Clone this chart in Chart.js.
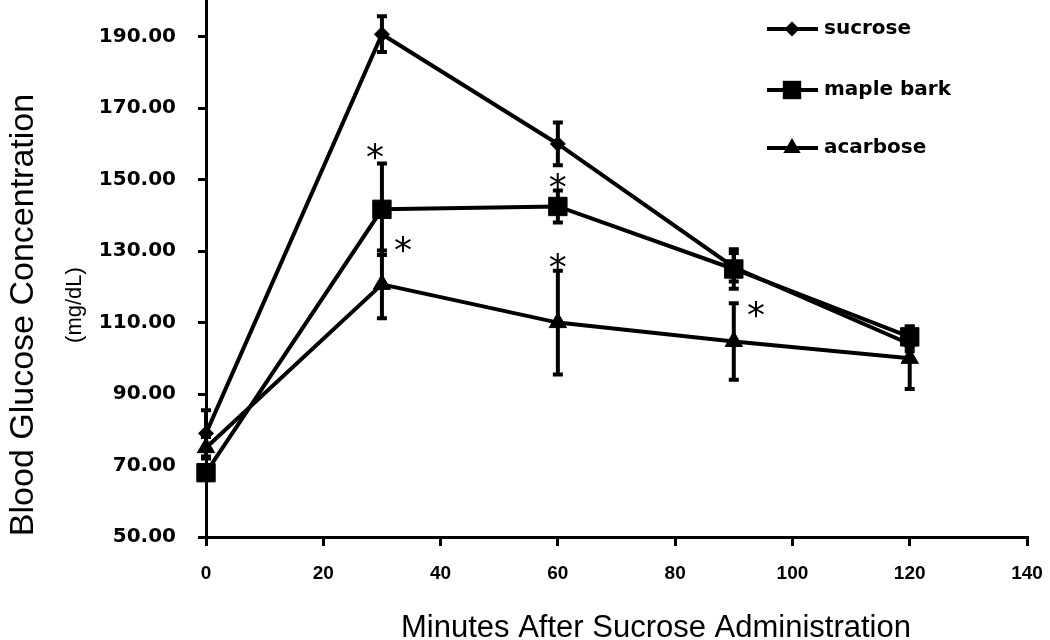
<!DOCTYPE html>
<html>
<head>
<meta charset="utf-8">
<script src="https://cdn.jsdelivr.net/npm/chart.js@4.4.0/dist/chart.umd.min.js"></script>
<style>
  body { margin: 0; background: #fff; }
</style>
</head>
<body>
<canvas id="glucoseChart" width="1050" height="640"></canvas>
<script>
const minutes = [0, 30, 60, 90, 120];
const sucrose = [79, 190.7, 160, 125.5, 104];
const sucroseErr = [6.5, 5, 6, 4, 2];
const mapleBark = [68, 141.7, 142.5, 125, 106];
const mapleBarkErr = [2, 12.8, 4.5, 5.5, 3];
const acarbose = [75, 120.7, 110, 104.7, 100];
const acarboseErr = [3, 9.5, 14.5, 10.7, 8.6];
const yTicks = [50, 70, 90, 110, 130, 150, 170, 190];
const xTicks = [0, 20, 40, 60, 80, 100, 120, 140];
// significance stars, in data units
const starX = [28.8, 33.6, 60, 60, 93.8];
const starY = [157.8, 131.8, 149.4, 127, 113.8];

const ctx = document.getElementById('glucoseChart').getContext('2d');

function toPoints(values) {
    return minutes.map((m, i) => ({ x: m, y: values[i] }));
}

function markerPath(c, style, x, y, r) {
    c.beginPath();
    if (style === 'rectRot') {
        c.moveTo(x - r, y); c.lineTo(x, y - r); c.lineTo(x + r, y); c.lineTo(x, y + r);
    } else if (style === 'rect') {
        const s = r * Math.SQRT1_2;
        c.rect(x - s, y - s, 2 * s, 2 * s);
    } else {
        const h = r * 1.5, hw = r * Math.sqrt(3) / 2;
        c.moveTo(x - hw, y + h / 3); c.lineTo(x, y - 2 * h / 3); c.lineTo(x + hw, y + h / 3);
    }
    c.closePath();
    c.fill();
}

const errorBars = {
    id: 'errorBars',
    afterDatasetsDraw(chart) {
        const { ctx: c, scales: { x, y } } = chart;
        c.save();
        c.strokeStyle = '#000';
        c.lineWidth = 4;
        chart.data.datasets.forEach(ds => {
            ds.errors.forEach((e, i) => {
                const px = x.getPixelForValue(minutes[i]);
                const top = y.getPixelForValue(ds.data[i].y + e);
                const bot = y.getPixelForValue(ds.data[i].y - e);
                c.beginPath();
                c.moveTo(px, top); c.lineTo(px, bot);
                c.moveTo(px - 5, top); c.lineTo(px + 5, top);
                c.moveTo(px - 5, bot); c.lineTo(px + 5, bot);
                c.stroke();
            });
        });
        // asterisks
        c.fillStyle = '#000';
        c.font = '36px "DejaVu Sans", sans-serif';
        c.textAlign = 'center';
        c.textBaseline = 'alphabetic';
        const m = c.measureText('*');
        const mid = (m.actualBoundingBoxAscent - m.actualBoundingBoxDescent) / 2;
        starX.forEach((sx, i) => {
            c.fillText('*', x.getPixelForValue(sx), y.getPixelForValue(starY[i]) + mid);
        });
        c.restore();
    }
};

const sideText = {
    id: 'sideText',
    afterDraw(chart) {
        const c = chart.ctx;
        c.save();
        c.fillStyle = '#000';
        c.textAlign = 'center';
        c.textBaseline = 'alphabetic';
        c.font = '31px "Liberation Sans", sans-serif';
        c.fillText('Minutes After Sucrose Administration', 656, 637);

        c.save();
        c.translate(24, 315);
        c.rotate(-Math.PI / 2);
        c.textBaseline = 'middle';
        c.font = '34px "Liberation Sans", sans-serif';
        c.fillText('Blood Glucose Concentration', 0, 0);
        c.restore();

        c.save();
        c.translate(75, 305);
        c.rotate(-Math.PI / 2);
        c.textBaseline = 'middle';
        c.font = '22px "Liberation Sans", sans-serif';
        c.fillText('(mg/dL)', 0, 0);
        c.restore();

        // legend
        const rows = [29, 90, 148];
        c.font = 'bold 20px "DejaVu Sans", sans-serif';
        c.textAlign = 'left';
        c.textBaseline = 'middle';
        chart.data.datasets.forEach((ds, i) => {
            const ly = rows[i];
            c.strokeStyle = '#000';
            c.lineWidth = 4;
            c.beginPath();
            c.moveTo(767, ly); c.lineTo(818, ly);
            c.stroke();
            c.fillStyle = '#000';
            markerPath(c, ds.pointStyle, 792, ly, ds.pointRadius);
            c.fillText(ds.label, 824, ly);
        });
        c.restore();
    }
};

function series(label, values, errors, style, radius) {
    return {
        label: label,
        data: toPoints(values),
        errors: errors,
        borderColor: '#000',
        backgroundColor: '#000',
        borderWidth: 4,
        pointStyle: style,
        pointRadius: radius,
        pointBorderWidth: 1,
        pointBackgroundColor: '#000',
        pointBorderColor: '#000',
        tension: 0,
        clip: false
    };
}

new Chart(ctx, {
    type: 'line',
    data: {
        datasets: [
            series('sucrose', sucrose, sucroseErr, 'rectRot', 7.5),
            series('maple bark', mapleBark, mapleBarkErr, 'rect', 13),
            series('acarbose', acarbose, acarboseErr, 'triangle', 10)
        ]
    },
    options: {
        responsive: false,
        animation: false,
        layout: { autoPadding: false, padding: { top: 1, right: 23, left: 0, bottom: 0 } },
        plugins: {
            legend: { display: false },
            tooltip: { enabled: false }
        },
        scales: {
            x: {
                type: 'linear',
                min: 0,
                max: 140,
                afterBuildTicks: s => { s.ticks = xTicks.map(v => ({ value: v })); },
                afterFit: s => { s.height = 103; s.paddingLeft = 0; s.paddingRight = 0; },
                grid: { drawOnChartArea: false, tickLength: 9, color: '#000', lineWidth: 3 },
                border: { color: '#000', width: 3 },
                ticks: {
                    color: '#000',
                    padding: 16,
                    maxRotation: 0,
                    font: { family: '"Liberation Sans", sans-serif', size: 19, weight: 'bold' }
                }
            },
            y: {
                min: 50,
                max: 200,
                afterBuildTicks: s => { s.ticks = yTicks.map(v => ({ value: v })); },
                afterFit: s => { s.width = 206; s.paddingTop = 0; s.paddingBottom = 0; },
                grid: { drawOnChartArea: false, tickLength: 8, color: '#000', lineWidth: 3 },
                border: { color: '#000', width: 3 },
                ticks: {
                    color: '#000',
                    padding: 22,
                    callback: v => v.toFixed(2),
                    font: { family: '"DejaVu Sans", sans-serif', size: 20, weight: 'bold' }
                }
            }
        }
    },
    plugins: [errorBars, sideText]
});
</script>
</body>
</html>
